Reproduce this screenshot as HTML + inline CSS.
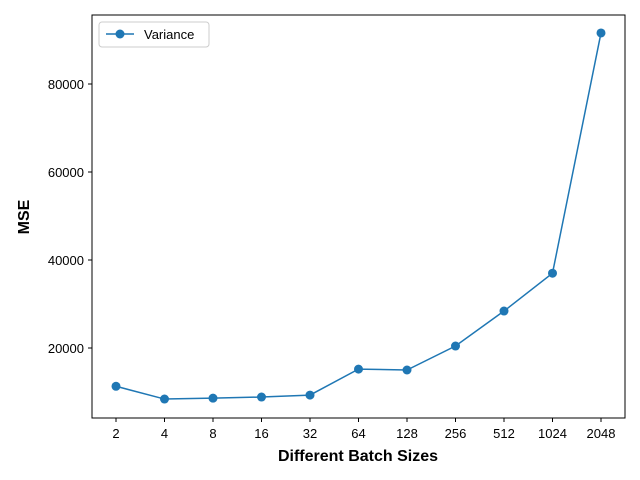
<!DOCTYPE html>
<html><head><meta charset="utf-8"><style>
body{margin:0;background:#fff;}
svg{display:block;font-family:"Liberation Sans","DejaVu Sans",sans-serif;}
</style></head><body>
<svg id="chart" width="640" height="480" xmlns="http://www.w3.org/2000/svg">
<rect width="640" height="480" fill="#fff"/>
<g id="marks"></g>
<rect x="92" y="15" width="533" height="403" fill="none" stroke="#000" stroke-width="1"/>
<g id="ticks"></g>
<text x="358" y="461" text-anchor="middle" font-size="16" font-weight="bold">Different Batch Sizes</text>
<text transform="translate(29,217) rotate(-90)" text-anchor="middle" font-size="16" font-weight="bold">MSE</text>
<g>
<rect x="99" y="22" width="110" height="25" rx="3" fill="#fff" stroke="#ccc"/>
<line x1="106" y1="34" x2="134" y2="34" stroke="#1f77b4" stroke-width="1.5"/>
<circle cx="120" cy="34" r="4.5" fill="#1f77b4"/>
<text x="144" y="39" font-size="13">Variance</text>
</g>
</svg>
<script>
const categories = ["2","4","8","16","32","64","128","256","512","1024","2048"];
const variance = [11300, 8400, 8600, 8860, 9300, 15200, 15000, 20450, 28400, 37000, 91600];
const yTicks = [20000, 40000, 60000, 80000];

const NS = "http://www.w3.org/2000/svg";
function xPos(i){ return 116 + i * 48.5; }
function yPos(v){ return 436 - v / 20000 * 88; }

const marks = document.getElementById('marks');
const ticks = document.getElementById('ticks');

const line = document.createElementNS(NS, 'polyline');
line.setAttribute('points', variance.map((v,i)=>xPos(i)+','+yPos(v)).join(' '));
line.setAttribute('fill','none');
line.setAttribute('stroke','#1f77b4');
line.setAttribute('stroke-width','1.5');


marks.appendChild(line);

variance.forEach((v,i)=>{
  const c = document.createElementNS(NS,'circle');
  c.setAttribute('cx', xPos(i));
  c.setAttribute('cy', yPos(v));
  c.setAttribute('r', 4.5);
  c.setAttribute('fill', '#1f77b4');
  
  
  marks.appendChild(c);
});

categories.forEach((c,i)=>{
  const t = document.createElementNS(NS,'line');
  t.setAttribute('x1', xPos(i)); t.setAttribute('x2', xPos(i));
  t.setAttribute('y1', 418); t.setAttribute('y2', 422);
  t.setAttribute('stroke', '#000');
  
  
  ticks.appendChild(t);
  const l = document.createElementNS(NS,'text');
  l.setAttribute('x', xPos(i)); l.setAttribute('y', 438);
  l.setAttribute('text-anchor', 'middle'); l.setAttribute('font-size', '13');
  l.textContent = c;
  
  
  ticks.appendChild(l);
});

yTicks.forEach(v=>{
  const t = document.createElementNS(NS,'line');
  t.setAttribute('x1', 88); t.setAttribute('x2', 92);
  t.setAttribute('y1', yPos(v)); t.setAttribute('y2', yPos(v));
  t.setAttribute('stroke', '#000');
  
  
  ticks.appendChild(t);
  const l = document.createElementNS(NS,'text');
  l.setAttribute('x', 84); l.setAttribute('y', yPos(v)+5);
  l.setAttribute('text-anchor', 'end'); l.setAttribute('font-size', '13');
  l.textContent = v;
  
  
  ticks.appendChild(l);
});
</script>
</body></html>
